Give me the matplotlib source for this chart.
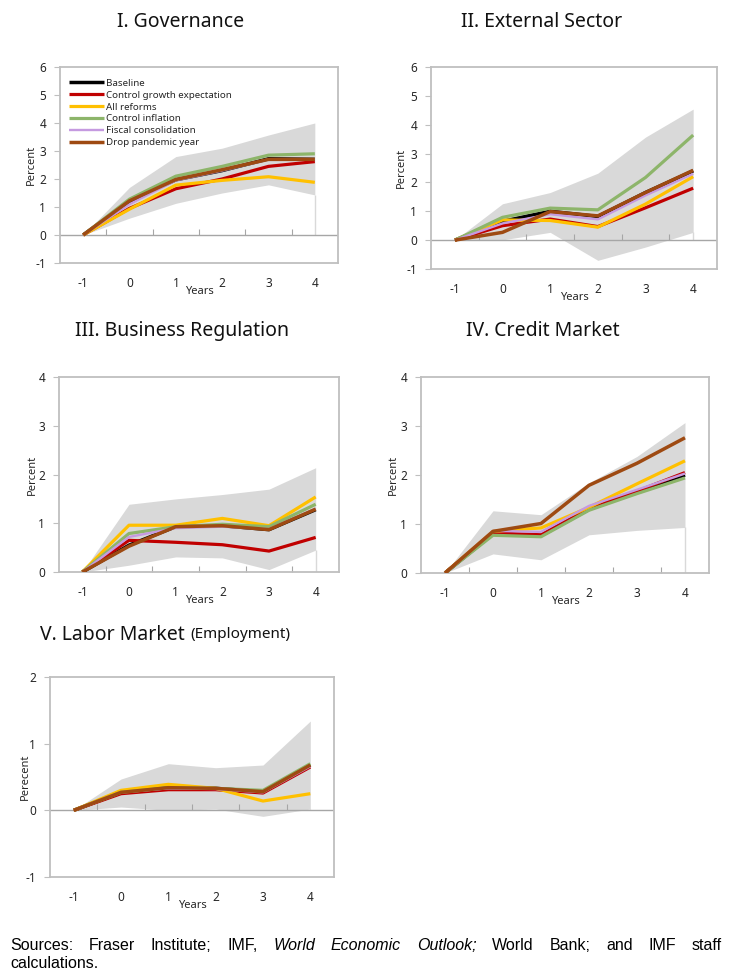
import numpy as np
import matplotlib
matplotlib.use("Agg")
import matplotlib.pyplot as plt

plt.rcParams['font.family'] = ['Noto Sans', 'DejaVu Sans']
plt.rcParams['axes.unicode_minus'] = False

years = [-1, 0, 1, 2, 3, 4]
series_names = ["Baseline", "Control growth expectation", "All reforms",
                "Control inflation", "Fiscal consolidation", "Drop pandemic year"]
series_colors = ["#000000", "#c00000", "#ffc000", "#8db56a", "#c59ae0", "#9e4a12"]
series_widths = [2.5, 2.3, 2.3, 2.3, 1.7, 2.5]

# I. Governance
gov_lower = [0, 0.60, 1.13, 1.50, 1.79, 1.43]
gov_upper = [0, 1.70, 2.80, 3.10, 3.57, 4.00]
gov_baseline = [0, 1.20, 1.97, 2.30, 2.72, 2.70]
gov_growth = [0, 0.95, 1.65, 2.00, 2.45, 2.62]
gov_reforms = [0, 0.92, 1.78, 1.95, 2.08, 1.88]
gov_inflation = [0, 1.28, 2.10, 2.45, 2.85, 2.90]
gov_fiscal = [0, 1.10, 1.95, 2.30, 2.70, 2.70]
gov_pandemic = [0, 1.22, 1.98, 2.33, 2.70, 2.70]

# II. External Sector
ext_lower = [0, 0.01, 0.27, -0.70, -0.24, 0.27]
ext_upper = [0, 1.26, 1.65, 2.32, 3.57, 4.54]
ext_baseline = [0, 0.65, 1.00, 0.82, 1.65, 2.40]
ext_growth = [0, 0.50, 0.73, 0.47, 1.12, 1.80]
ext_reforms = [0, 0.70, 0.68, 0.45, 1.25, 2.20]
ext_inflation = [0, 0.79, 1.11, 1.05, 2.17, 3.64]
ext_fiscal = [0, 0.58, 0.90, 0.72, 1.55, 2.30]
ext_pandemic = [0, 0.27, 0.99, 0.84, 1.65, 2.42]

# III. Business Regulation
bus_lower = [0, 0.14, 0.31, 0.29, 0.05, 0.45]
bus_upper = [0, 1.39, 1.50, 1.59, 1.70, 2.14]
bus_baseline = [0, 0.55, 0.93, 0.95, 0.87, 1.28]
bus_growth = [0, 0.65, 0.61, 0.56, 0.43, 0.71]
bus_reforms = [0, 0.96, 0.96, 1.10, 0.95, 1.54]
bus_inflation = [0, 0.79, 0.93, 0.98, 0.93, 1.39]
bus_fiscal = [0, 0.72, 0.90, 0.93, 0.88, 1.30]
bus_pandemic = [0, 0.53, 0.93, 0.95, 0.87, 1.29]

# IV. Credit Market
cred_lower = [0, 0.39, 0.27, 0.78, 0.87, 0.93]
cred_upper = [0, 1.27, 1.19, 1.84, 2.38, 3.07]
cred_baseline = [0, 0.80, 0.76, 1.30, 1.65, 2.00]
cred_growth = [0, 0.82, 0.78, 1.32, 1.67, 2.05]
cred_reforms = [0, 0.85, 0.92, 1.34, 1.82, 2.29]
cred_inflation = [0, 0.77, 0.74, 1.28, 1.62, 1.94]
cred_fiscal = [0, 0.86, 0.84, 1.37, 1.70, 2.03]
cred_pandemic = [0, 0.85, 1.01, 1.79, 2.24, 2.76]

# V. Labor Market
lab_lower = [0, 0.05, 0.00, 0.02, -0.09, 0.02]
lab_upper = [0, 0.47, 0.70, 0.64, 0.68, 1.34]
lab_baseline = [0, 0.27, 0.34, 0.33, 0.28, 0.68]
lab_growth = [0, 0.25, 0.31, 0.31, 0.26, 0.65]
lab_reforms = [0, 0.30, 0.39, 0.33, 0.14, 0.25]
lab_inflation = [0, 0.27, 0.34, 0.33, 0.30, 0.70]
lab_fiscal = [0, 0.27, 0.33, 0.32, 0.27, 0.66]
lab_pandemic = [0, 0.27, 0.34, 0.33, 0.28, 0.68]

panels = [
    ("I. Governance", (0.0822, 0.7303, 0.3808, 0.2010), (-1, 6), "Percent",
     gov_lower, gov_upper,
     [gov_baseline, gov_growth, gov_reforms, gov_inflation, gov_fiscal, gov_pandemic]),
    ("II. External Sector", (0.5904, 0.7241, 0.3918, 0.2072), (-1, 6), "Percent",
     ext_lower, ext_upper,
     [ext_baseline, ext_growth, ext_reforms, ext_inflation, ext_fiscal, ext_pandemic]),
    ("III. Business Regulation", (0.0808, 0.4133, 0.3836, 0.2000), (0, 4), "Percent",
     bus_lower, bus_upper,
     [bus_baseline, bus_growth, bus_reforms, bus_inflation, bus_fiscal, bus_pandemic]),
    ("IV. Credit Market", (0.5767, 0.4123, 0.3945, 0.2010), (0, 4), "Percent",
     cred_lower, cred_upper,
     [cred_baseline, cred_growth, cred_reforms, cred_inflation, cred_fiscal, cred_pandemic]),
    ("V. Labor Market", (0.0685, 0.1005, 0.3890, 0.2051), (-1, 2), "Perecent",
     lab_lower, lab_upper,
     [lab_baseline, lab_growth, lab_reforms, lab_inflation, lab_fiscal, lab_pandemic]),
]
title_pos = [(0.248, 0.977), (0.742, 0.977), (0.249, 0.661), (0.744, 0.661), None]
ylabel_pad = [-1, 0, 0, 1, -4]
title_size = 14

band_color = "#d9d9d9"
frame_color = "#bfbfbf"
text_color = "#262626"

fig = plt.figure(figsize=(7.3, 9.75), dpi=100)

for i, (title, rect, ylim, ylab, lower, upper, lines) in enumerate(panels):
    ax = fig.add_axes(rect)
    x = np.array(years)
    ax.fill_between(x, lower, upper, color=band_color, lw=0, zorder=1)
    ax.vlines(x[-1], 0, lower[-1], color=band_color, lw=1, zorder=1)
    if ylim[0] < 0:
        ax.axhline(0, color="#a6a6a6", lw=1, zorder=2)
    # small tick marks between categories on the zero line
    ax.plot(x[:-1] + 0.5, np.zeros(len(x) - 1), ls="", marker=2, ms=4,
            mew=0.8, color="#a6a6a6", zorder=2)
    for name, vals, c, w in zip(series_names, lines, series_colors, series_widths):
        ax.plot(x, vals, color=c, lw=w, label=name, zorder=3,
                solid_capstyle="butt")
    ax.set_xlim(-1.5, 4.5)
    ax.set_ylim(*ylim)
    ax.set_yticks(range(ylim[0], ylim[1] + 1))
    ax.set_xticks(years)
    ax.tick_params(axis="x", length=0, pad=10, labelsize=8.5, labelcolor=text_color)
    ax.tick_params(axis="y", length=4, width=0.8, color=frame_color, pad=6,
                   labelsize=8.5, labelcolor=text_color)
    for s in ax.spines.values():
        s.set_color(frame_color)
        s.set_linewidth(1.3)
    ax.set_xlabel("Years", fontsize=8, color=text_color, labelpad=-3)
    ax.set_ylabel(ylab, fontsize=8, color=text_color, labelpad=ylabel_pad[i])
    if title_pos[i] is not None:
        fig.text(title_pos[i][0], title_pos[i][1], title, ha="center", va="center",
                 fontsize=title_size, color="#111111")
    if i == 0:
        ax.legend(loc="upper left", bbox_to_anchor=(0.0, 0.985), frameon=False,
                  fontsize=7, handlelength=3.6, handletextpad=0.25,
                  labelspacing=0.3, borderaxespad=0.5, labelcolor=text_color)

fig.canvas.draw()
renderer = fig.canvas.get_renderer()

# panel V title in two sizes
t5 = fig.text(40 / 730, 0.349, "V. Labor Market", ha="left", va="center",
              fontsize=title_size, color="#111111")
bb5 = t5.get_window_extent(renderer)
fig.text((bb5.x1 + 6) / fig.bbox.width, 0.349, "(Employment)", ha="left",
         va="center", fontsize=11, color="#111111")

# justified source note
words = [("Sources:", "normal"), ("Fraser", "normal"), ("Institute;", "normal"),
         ("IMF,", "normal"), ("World", "italic"), ("Economic", "italic"),
         ("Outlook;", "italic"), ("World", "normal"), ("Bank;", "normal"),
         ("and", "normal"), ("IMF", "normal"), ("staff", "normal")]
left, right = 10 / 730, 722 / 730
y1, y2 = 1 - 945 / 975, 1 - 964 / 975
items = []
for w, style in words:
    t = fig.text(left, y1, w, fontsize=11.5, style=style, family="Liberation Sans",
                 ha="left", va="center")
    bb = t.get_window_extent(renderer)
    items.append((t, bb.width / fig.bbox.width))
total = sum(wd for _, wd in items)
gap = (right - left - total) / (len(items) - 1)
xpos = left
for t, wd in items:
    t.set_x(xpos)
    xpos += wd + gap
fig.text(left, y2, "calculations.", fontsize=11.5, family="Liberation Sans",
         ha="left", va="center")

fig.savefig("out.png", dpi=100)
